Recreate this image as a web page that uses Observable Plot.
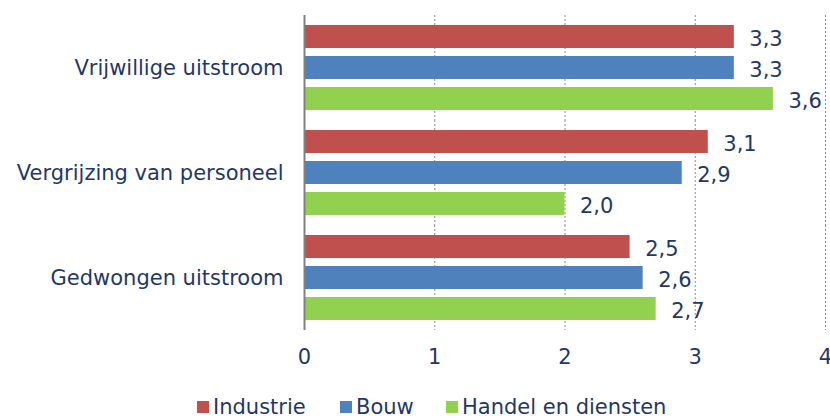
<!DOCTYPE html>
<html>
<head>
<meta charset="utf-8">
<script src="https://cdn.jsdelivr.net/npm/d3@7"></script>
<script src="https://cdn.jsdelivr.net/npm/@observablehq/plot@0.6"></script>
<style>
  body { margin: 0; background: #fff; font-family: "DejaVu Sans", Verdana, sans-serif; position: relative; width: 830px; height: 418px; overflow: hidden; }
  #chart svg { display: block; }
  .legend { position: absolute; left: 0; top: 395px; width: 830px; height: 24px; font-size: 21px; color: #1F3864; line-height: 24px; }
  .legend .item { position: absolute; top: 0; display: flex; align-items: center; white-space: nowrap; }
  .legend .sw { width: 12px; height: 12px; margin-right: 4px; }
</style>
</head>
<body>
<div id="chart"></div>
<script>
// Reasons for staff outflow, per sector
const categories = ["Vrijwillige uitstroom", "Vergrijzing van personeel", "Gedwongen uitstroom"];
const seriesNames = ["Industrie", "Bouw", "Handel en diensten"];
const industrie = [3.3, 3.1, 2.5];
const bouw = [3.3, 2.9, 2.6];
const handel = [3.6, 2.0, 2.7];
const xTicks = [0, 1, 2, 3, 4];
const colors = ["#C0504D", "#4F81BD", "#92D050"];

const seriesValues = [industrie, bouw, handel];
const data = [];
categories.forEach((c, i) => {
  seriesNames.forEach((s, j) => {
    data.push({category: c, series: s, value: seriesValues[j][i]});
  });
});

const navy = "#1F3864";
const fmt = v => v.toFixed(1).replace(".", ",");

const chart = Plot.plot({
  width: 830,
  height: 392,
  marginTop: 14,
  marginBottom: 62,
  marginLeft: 304,
  marginRight: 5,
  style: {fontFamily: "DejaVu Sans, Verdana, sans-serif", fontSize: "21px", color: navy, background: "#fff"},
  facet: {data, y: "category"},
  fy: {domain: categories, padding: 0, label: null, tickSize: 0, tickPadding: 21},
  y: {domain: seriesNames, paddingInner: 0.26, paddingOuter: 0.32, axis: null},
  x: {domain: [0, 4], ticks: xTicks, tickSize: 0, tickPadding: 19, label: null, tickFormat: d => String(d)},
  color: {domain: seriesNames, range: colors},
  marks: [
    Plot.ruleX(xTicks.filter(d => d > 0), {stroke: "#8c8c8c", strokeDasharray: "2,2", strokeWidth: 1}),
    Plot.barX(data, {x: "value", y: "series", fill: "series"}),
    Plot.ruleX([0], {stroke: "#808080", strokeWidth: 2}),
    Plot.text(data, {x: "value", y: "series", text: d => fmt(d.value), textAnchor: "start", dx: 15, dy: 2, fill: navy, fontSize: 21})
  ]
});
document.getElementById("chart").appendChild(chart);

// Legend below the plot
const legendLeft = [197, 340, 446];
const legend = document.createElement("div");
legend.className = "legend";
seriesNames.forEach((s, i) => {
  const item = document.createElement("div");
  item.className = "item";
  item.style.left = legendLeft[i] + "px";
  const sw = document.createElement("span");
  sw.className = "sw";
  sw.style.background = colors[i];
  const label = document.createElement("span");
  label.textContent = s;
  item.appendChild(sw);
  item.appendChild(label);
  legend.appendChild(item);
});
document.body.appendChild(legend);
</script>
</body>
</html>
